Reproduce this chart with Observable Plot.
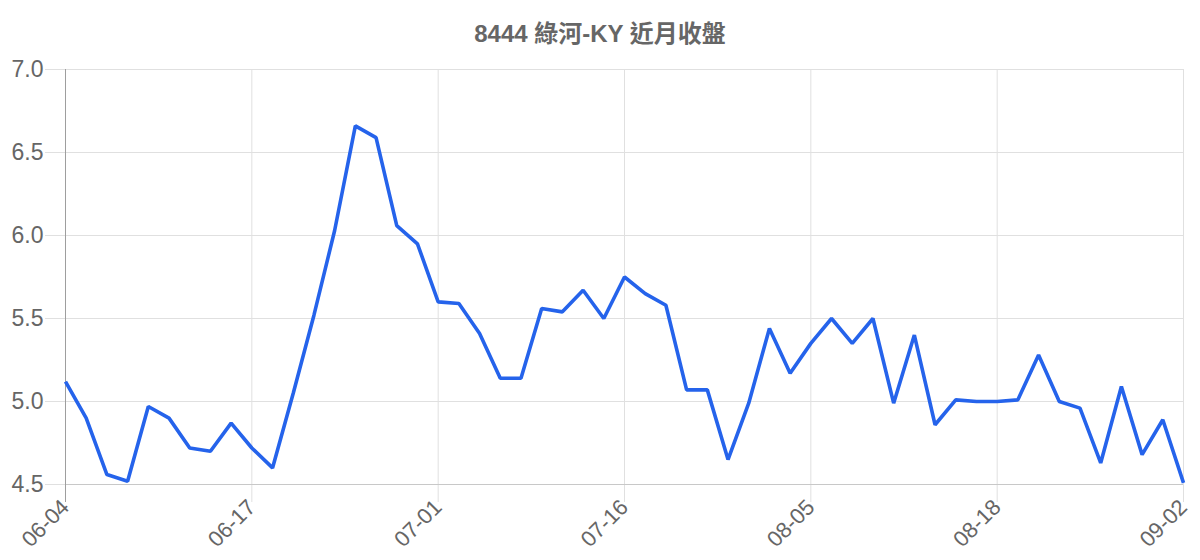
<!DOCTYPE html>
<html>
<head>
<meta charset="utf-8">
<script src="https://cdn.jsdelivr.net/npm/d3@7"></script>
<script src="https://cdn.jsdelivr.net/npm/@observablehq/plot@0.6"></script>
<style>
  body { margin: 0; background: #fff; width: 1200px; height: 560px; overflow: hidden; }
  #title { font-family: "Liberation Sans", "Noto Sans CJK TC", sans-serif; font-weight: bold; font-size: 24px; line-height: 28px; color: #666; text-align: center; margin-top: 20px; height: 28px; }
</style>
</head>
<body>
<div id="title">8444 綠河-KY 近月收盤</div>
<div id="chart"></div>
<script>
const titleText = "8444 綠河-KY 近月收盤";
const closes = [
  5.12, 4.90, 4.56, 4.52, 4.97, 4.90, 4.72, 4.70, 4.87, 4.72,
  4.60, 5.05, 5.52, 6.03, 6.66, 6.59, 6.06, 5.95, 5.60, 5.59,
  5.41, 5.14, 5.14, 5.56, 5.54, 5.67, 5.50, 5.75, 5.65, 5.58,
  5.07, 5.07, 4.65, 4.99, 5.44, 5.17, 5.35, 5.50, 5.35, 5.50,
  4.99, 5.40, 4.86, 5.01, 5.00, 5.00, 5.01, 5.28, 5.00, 4.96,
  4.63, 5.09, 4.68, 4.89, 4.51
];
const tickIndex = [0, 9, 18, 27, 36, 45, 54];
const tickLabels = ["06-04", "06-17", "07-01", "07-16", "08-05", "08-18", "09-02"];
const yTicks = [4.5, 5.0, 5.5, 6.0, 6.5, 7.0];

const data = closes.map((v, i) => ({i, v}));

const chart = Plot.plot({
  width: 1200,
  height: 512,
  marginTop: 21,
  marginBottom: 76,
  marginLeft: 65,
  marginRight: 17,
  style: {fontFamily: "'Liberation Sans', 'Noto Sans CJK TC', sans-serif", fontSize: "20px", background: "#fff"},
  x: {domain: [0, closes.length - 1]},
  y: {domain: [4.5, 7.0]},
  marks: [
    Plot.gridY(yTicks, {stroke: "#e0e0e0", strokeOpacity: 1}),
    Plot.gridX(tickIndex, {stroke: "#e0e0e0", strokeOpacity: 1}),
    Plot.axisY({ticks: yTicks, tickFormat: d3.format(".1f"), tickSize: 20, tickPadding: 2, stroke: "#e0e0e0", fill: "#666", fontSize: 23, label: null}),
    Plot.axisX({ticks: tickIndex, tickFormat: i => tickLabels[tickIndex.indexOf(i)], tickSize: 18, tickPadding: 1, tickRotate: -45, stroke: "#e0e0e0", fill: "#666", fontSize: 22, label: null}),
    Plot.ruleY([4.5], {stroke: "#c8c8c8"}),
    Plot.ruleX([0], {stroke: "#9e9e9e"}),
    Plot.axisX({ticks: [0], tickFormat: () => "", tickSize: 18, stroke: "#9e9e9e", label: null}),
    Plot.line(data, {x: "i", y: "v", stroke: "#2563eb", strokeWidth: 3.6, strokeLinejoin: "miter", strokeLinecap: "butt"})
  ]
});
document.getElementById("chart").appendChild(chart);
</script>
</body>
</html>
